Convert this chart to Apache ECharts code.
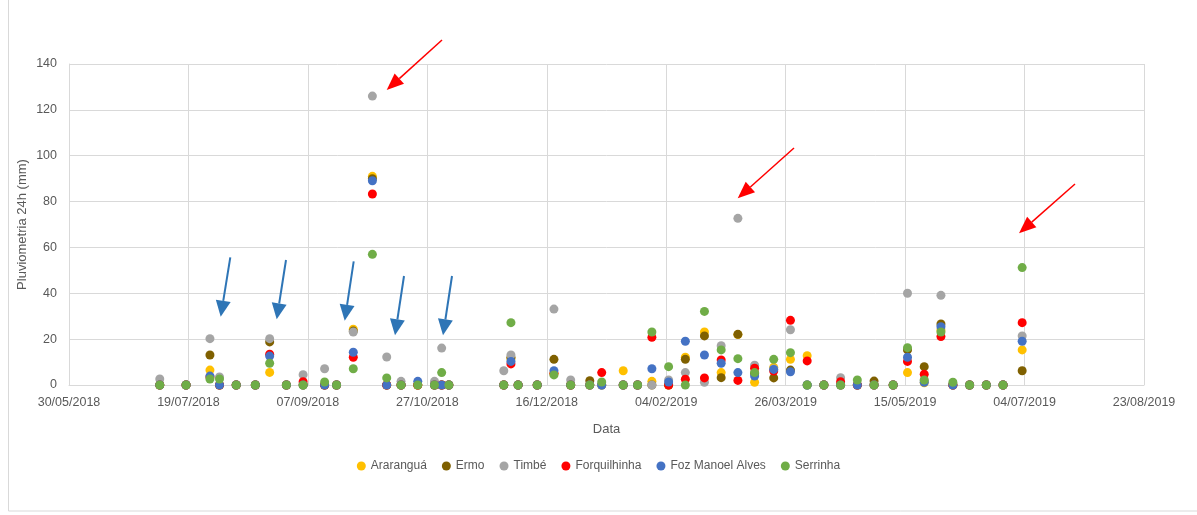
<!DOCTYPE html>
<html><head><meta charset="utf-8">
<script src="https://cdn.jsdelivr.net/npm/echarts@6/dist/echarts.min.js"></script>
<style>html,body{margin:0;padding:0;background:#fff}#c{width:1197px;height:515px}</style>
</head><body><div id="c"></div>
<script>
// Sampling dates
const dates = ['07/07/2018','18/07/2018','28/07/2018','01/08/2018','08/08/2018','16/08/2018','22/08/2018','29/08/2018','05/09/2018','14/09/2018',
'19/09/2018','26/09/2018','04/10/2018','10/10/2018','16/10/2018','23/10/2018','30/10/2018','02/11/2018','05/11/2018','28/11/2018',
'01/12/2018','04/12/2018','12/12/2018','19/12/2018','26/12/2018','03/01/2019','08/01/2019','17/01/2019','23/01/2019','29/01/2019',
'05/02/2019','12/02/2019','20/02/2019','27/02/2019','06/03/2019','13/03/2019','21/03/2019','28/03/2019','04/04/2019','11/04/2019',
'18/04/2019','25/04/2019','02/05/2019','10/05/2019','16/05/2019','23/05/2019','30/05/2019','04/06/2019','11/06/2019','18/06/2019',
'25/06/2019','03/07/2019'];
const seriesNames = ['Araranguá','Ermo','Timbé','Forquilhinha','Foz Manoel Alves','Serrinha'];
const ararangua = [0,0,6.5,0,0,0,5.5,0,0,0, 0,24.3,91,0,0,0,0,0,0,0, 11.5,0,0,5,0,0,0,6.2,0,1.6, 0,12.1,23.1,5.4,22,1.2,7.7,11.2,12.8,0, 0,0,0,0,5.4,1,24,0,0,0, 0,15.3];
const ermo      = [0,0,13.1,0,0,0,18.8,0,0,0, 0,23.5,90,0,0,0,0,0,0,0, 12,0,0,11.2,0,1.9,0,0,0,0, 0,11.2,21.4,3.2,22.1,5,3.1,6.5,0,0, 0,0,1.7,0,15.3,8,26.6,0,0,0, 0,6.2];
const timbe     = [2.6,0,20.2,3.5,0,0,20.2,0,4.5,7.1, 0,23.1,126,12.2,1.6,0,1.6,16.1,0,6.2, 13.1,0,0,33.1,2.2,0,0,0,0,0, 2.2,5.4,1.2,17.1,72.7,8.6,7,24.1,0,0, 3.2,0,0,0,40,2,39.1,0,0,0, 0,21.4];
const forquilhinha = [0,0,3.5,0,0,0,13.4,0,1.4,0, 0,12.1,83.3,0,0,0,0,0,0,0, 9.2,0,0,5,0,0,5.4,0,0,20.8, 0,2.5,3.1,10.9,2,7.3,6.1,28.2,10.5,0, 1.4,0,0,0,10.3,4.7,21.1,0,0,0, 0,27.2];
const fozManoelAlves = [0,0,3.9,0,0,0,12.6,0,0,0, 0,14.3,89.1,0,0,1.6,0,0,0,0, 10.3,0,0,6.2,0,0,0,0,0,7.1, 1.3,19.1,13.1,9.5,5.4,3.9,6.8,5.8,0,0, 0,0,0,0,12.1,1.2,25.4,0,0,0, 0,19.1];
const serrinha  = [0,0,2.6,2.6,0,0,9.5,0,0,1.3, 0,7.1,57,3.1,0,0,0,5.4,0,0, 27.2,0,0,4.4,0,0,1.3,0,0,23.1, 8,0,32.1,15.3,11.5,5.4,11.2,14.1,0,0, 0,2.2,0,0,16.3,2.2,23.1,1.2,0,0, 0,51.2];
const seriesValues = [ararangua, ermo, timbe, forquilhinha, fozManoelAlves, serrinha];
const seriesColors = ['#FFC000','#7F6000','#A5A5A5','#FF0000','#4472C4','#70AD47'];
// X axis: days from 30/05/2018, ticks every 50 days up to 23/08/2019
const xStart = '30/05/2018';
const xMax = 450, xInterval = 50;
const yMax = 140, yInterval = 20;

function toUTC(s){const p=s.split('/');return Date.UTC(+p[2],+p[1]-1,+p[0]);}
const base = toUTC(xStart);
function dayOff(s){return Math.round((toUTC(s)-base)/86400000);}
function fmt(v){const d=new Date(base+v*86400000);const dd=String(d.getUTCDate()).padStart(2,'0');const mm=String(d.getUTCMonth()+1).padStart(2,'0');return dd+'/'+mm+'/'+d.getUTCFullYear();}

const FONT='Liberation Sans';
const series = seriesNames.map((n,k)=>({
  name:n, type:'scatter', symbol:'circle', symbolSize:9,
  itemStyle:{color:seriesColors[k], opacity:1},
  data: dates.map((d,i)=>[dayOff(d), seriesValues[k][i]]).filter(p=>p[1]!=null),
  z:2+k
}));

// annotation arrows (pixel positions)
function arrow(x1,y1,x2,y2,color,lw,hl,hw){
  const dx=x2-x1, dy=y2-y1, L=Math.hypot(dx,dy), ux=dx/L, uy=dy/L;
  const bx=x2-ux*hl, by=y2-uy*hl, px=-uy, py=ux;
  return [
    {type:'line', shape:{x1:x1,y1:y1,x2:bx,y2:by}, style:{stroke:color,lineWidth:lw}, z:100},
    {type:'polygon', shape:{points:[[x2,y2],[bx+px*hw/2,by+py*hw/2],[bx-px*hw/2,by-py*hw/2]]}, style:{fill:color}, z:100}
  ];
}
const graphics = [
  {type:'rect', shape:{x:8.5,y:-5,width:1200,height:516}, style:{fill:'none',stroke:'#D9D9D9',lineWidth:1}, z:0},
  ...arrow(442,40,386.7,90,'#FF0000',1.5,17,14),
  ...arrow(794,148,737.7,198.3,'#FF0000',1.5,17,14),
  ...arrow(1075,184,1019,233.3,'#FF0000',1.5,17,14),
  ...arrow(230.3,257.3,220.7,316.7,'#2E75B6',2,16,15),
  ...arrow(286,260,276.7,319.3,'#2E75B6',2,16,15),
  ...arrow(353.7,261.3,344.7,320.7,'#2E75B6',2,16,15),
  ...arrow(404,276,395,335.3,'#2E75B6',2,16,15),
  ...arrow(452,276,443,335.3,'#2E75B6',2,16,15)
];

const chart = echarts.init(document.getElementById('c'), null, {renderer:'canvas'});
chart.setOption({
  animation:false,
  backgroundColor:'#fff',
  textStyle:{fontFamily:FONT},
  grid:{left:69, right:53, top:64, bottom:130, containLabel:false},
  xAxis:{type:'value', min:0, max:xMax, interval:xInterval,
    name:'Data', nameLocation:'middle', nameGap:38, nameMoveOverlap:false,
    nameTextStyle:{color:'#595959', fontSize:13, fontFamily:FONT},
    axisLine:{show:true, lineStyle:{color:'#D9D9D9'}}, axisTick:{show:false},
    axisLabel:{color:'#595959', fontSize:12.5, fontFamily:FONT, margin:11, formatter:fmt},
    splitLine:{show:true, lineStyle:{color:'#D9D9D9'}}},
  yAxis:{type:'value', min:0, max:yMax, interval:yInterval,
    name:'Pluviometria 24h (mm)', nameLocation:'middle', nameGap:40, nameRotate:90, nameMoveOverlap:false,
    nameTextStyle:{color:'#595959', fontSize:13, fontFamily:FONT},
    axisLine:{show:true, lineStyle:{color:'#D9D9D9'}}, axisTick:{show:false},
    axisLabel:{color:'#595959', fontSize:12.5, fontFamily:FONT, margin:12},
    splitLine:{show:true, lineStyle:{color:'#D9D9D9'}}},
  legend:{data:seriesNames, top:455, left:'center', icon:'circle', itemWidth:9, itemHeight:9, itemGap:15,
    textStyle:{color:'#595959', fontSize:12, fontFamily:FONT}},
  graphic: graphics,
  series: series
});
</script></body></html>
